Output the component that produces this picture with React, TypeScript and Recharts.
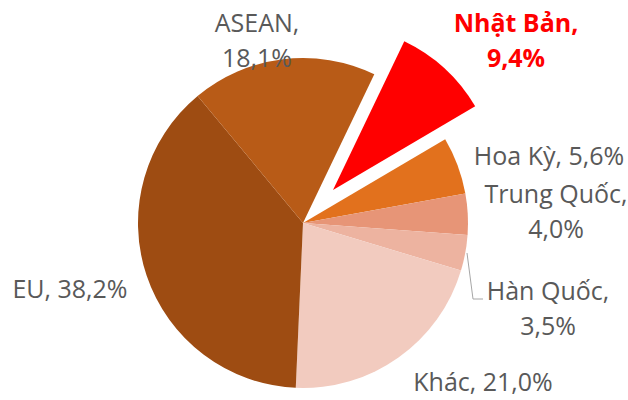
import { PieChart, Pie, Cell } from "recharts";

const categories = ["Nhật Bản", "Hoa Kỳ", "Trung Quốc", "Hàn Quốc", "Khác", "EU", "ASEAN"];
const shares = [9.4, 5.6, 4.0, 3.5, 21.0, 38.2, 18.1];
const colors = ["#FF0000", "#E2711D", "#E79577", "#EDB3A0", "#F2CBBF", "#9E4C12", "#B85B17"];

const data = categories.map((name, i) => ({ name, value: shares[i] }));

const CX = 303;
const CY = 223;
const R = 165;
const EXPLODE = { dx: 30, dy: -33 };
// excel rotation: first slice starts ~25.6deg clockwise from 12 o'clock
const START = 90 - 25.6;

// label anchor relative to pie centre (text centre x, first baseline y)
const labelPos = [
  { dx: 213, dy: -191, split: true },
  { dx: 246, dy: -58, split: false },
  { dx: 253, dy: -20, split: true },
  { dx: 245, dy: 77, split: true },
  { dx: 180, dy: 168, split: false },
  { dx: -233, dy: 75, split: false },
  { dx: -46, dy: -191, split: true },
];

const fmt = (v: number) => v.toFixed(1).replace(".", ",") + "%";

function renderLabel(props: any) {
  const i = props.index;
  const p = labelPos[i];
  const x = CX + p.dx;
  const y = CY + p.dy;
  const name = categories[i];
  const val = fmt(shares[i]);
  const isJapan = i === 0;
  const fill = isJapan ? "#FF0000" : "#595959";
  return (
    <g key={"lbl" + i}>
      {i === 3 && (
        <polyline
          points={`${CX + 164},${CY + 30} ${CX + 170},${CY + 76} ${CX + 180},${CY + 76}`}
          fill="none"
          stroke="#A6A6A6"
          strokeWidth={1}
        />
      )}
      <text
        x={x}
        y={y}
        textAnchor="middle"
        fill={fill}
        fontSize={25}
        fontWeight={isJapan ? 700 : 400}
        fontFamily="'Open Sans', sans-serif"
      >
        {p.split ? (
          <>
            <tspan x={x} y={y}>{name + ","}</tspan>
            <tspan x={x} y={y + 35}>{val}</tspan>
          </>
        ) : (
          name + ", " + val
        )}
      </text>
    </g>
  );
}

export default function App() {
  return (
    <div style={{ position: "absolute", left: 0, top: 0, background: "#fff" }}>
      <style>{`.recharts-pie-sectors{filter:drop-shadow(0 0 2px rgba(0,0,0,0.18));}`}</style>
      <PieChart width={628} height={400} margin={{ top: 0, right: 0, bottom: 0, left: 0 }}>
        <Pie
          data={data}
          dataKey="value"
          nameKey="name"
          cx={CX}
          cy={CY}
          outerRadius={R}
          startAngle={START}
          endAngle={START - 360}
          stroke="none"
          label={renderLabel}
          labelLine={false}
          isAnimationActive={false}
        >
          {data.map((d, i) => (
            <Cell key={d.name} fill={i === 0 ? "none" : colors[i]} stroke="none" />
          ))}
        </Pie>
        <Pie
          data={data}
          dataKey="value"
          nameKey="name"
          cx={CX + EXPLODE.dx}
          cy={CY + EXPLODE.dy}
          outerRadius={R}
          startAngle={START}
          endAngle={START - 360}
          stroke="none"
          isAnimationActive={false}
        >
          {data.map((d, i) => (
            <Cell key={d.name} fill={i === 0 ? colors[0] : "none"} stroke="none" />
          ))}
        </Pie>
      </PieChart>
    </div>
  );
}
